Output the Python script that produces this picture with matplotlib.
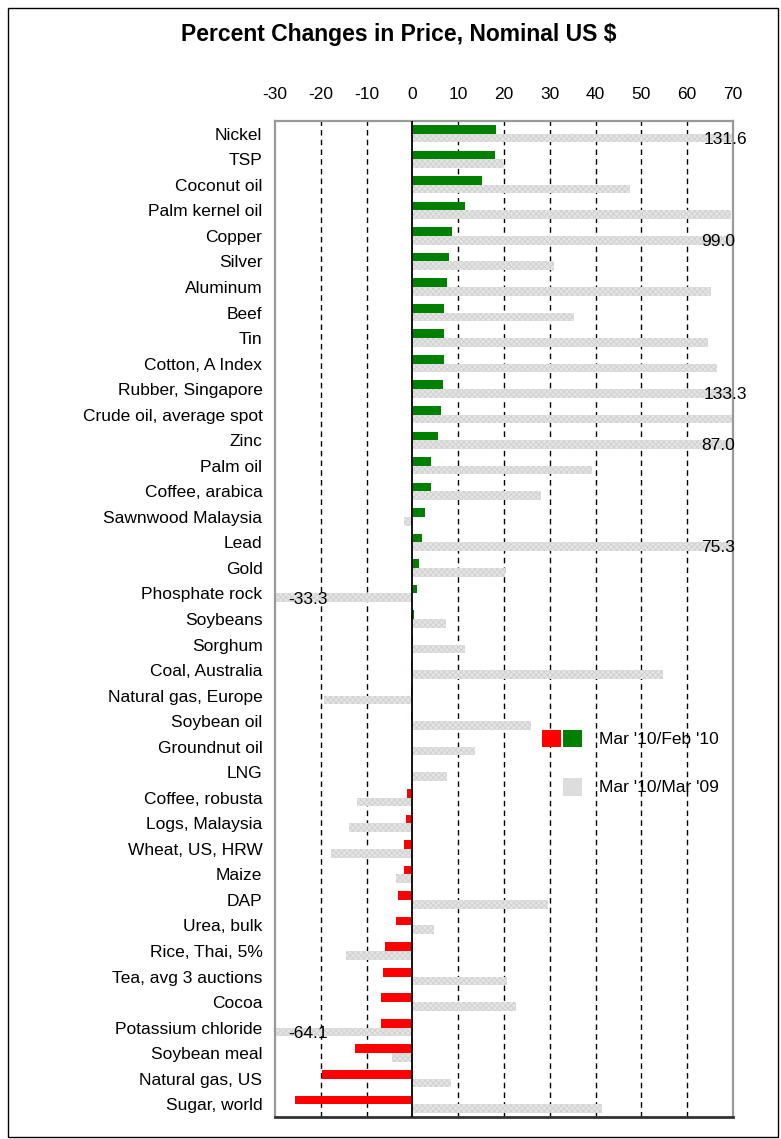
import numpy as np
import matplotlib
matplotlib.use("Agg")
import matplotlib.pyplot as plt
from matplotlib.patches import Patch, Rectangle
from matplotlib.legend_handler import HandlerTuple

plt.rcParams['font.family'] = ['Liberation Sans', 'DejaVu Sans']
plt.rcParams['hatch.linewidth'] = 0.6

commodities = ["Nickel", "TSP", "Coconut oil", "Palm kernel oil", "Copper", "Silver",
               "Aluminum", "Beef", "Tin", "Cotton, A Index", "Rubber, Singapore",
               "Crude oil, average spot", "Zinc", "Palm oil", "Coffee, arabica",
               "Sawnwood Malaysia", "Lead", "Gold", "Phosphate rock", "Soybeans",
               "Sorghum", "Coal, Australia", "Natural gas, Europe", "Soybean oil",
               "Groundnut oil", "LNG", "Coffee, robusta", "Logs, Malaysia",
               "Wheat, US, HRW", "Maize", "DAP", "Urea, bulk", "Rice, Thai, 5%",
               "Tea, avg 3 auctions", "Cocoa", "Potassium chloride", "Soybean meal",
               "Natural gas, US", "Sugar, world"]

# Mar '10 / Feb '10
monthly = [18.3, 18.0, 15.3, 11.4, 8.7, 8.1, 7.5, 7.0, 7.0, 7.0, 6.7, 6.2, 5.5, 4.1,
           4.1, 2.7, 2.1, 1.5, 1.1, 0.4, 0.1, -0.2, -0.2, -0.2, 0.0, 0.0, -1.25,
           -1.5, -1.9, -1.9, -3.2, -3.5, -5.9, -6.5, -6.8, -6.8, -12.5, -19.7, -25.7]

# Mar '10 / Mar '09
yearly = [131.6, 19.9, 47.5, 69.6, 99.0, 31.0, 65.3, 35.2, 64.6, 66.6, 133.3, 70.0,
          87.0, 39.2, 28.0, -1.8, 75.3, 20.2, -33.3, 7.4, 11.4, 54.8, -19.3, 26.0,
          13.7, 7.5, -12.0, -13.8, -17.8, -3.5, 29.7, 4.8, -14.5, 20.7, 22.7, -64.1,
          -4.5, 8.4, 41.5]

xmin, xmax = -30, 70
ticks = np.arange(-30, 80, 10)

y = np.arange(len(commodities))
h = 0.34
green_red = ['green' if v >= 0 else 'red' for v in monthly]

fig = plt.figure(figsize=(7.81, 11.39), dpi=100)
ax = fig.add_axes([0.3521, 0.0193, 0.5864, 0.8745])

ax.barh(y - h / 2, monthly, height=h, color=green_red, edgecolor='none', zorder=3)
ax.barh(y + h / 2, yearly, height=h, color='#e4e4e4', edgecolor='#d0d0d0',
        linewidth=0, hatch='xxxxxx', zorder=2)

# labels for values outside the axis range
for i, v in enumerate(yearly):
    if v > xmax:
        xpos = 73.1 if v > 100 else 70.5
        ax.text(xpos, i + h / 2 + 0.05, f"{v:.1f}", ha='right', va='center',
                fontsize=12.5, zorder=5, clip_on=False)
    elif v < xmin:
        ax.text(-27.2, i + h / 2 + 0.05, f"{v:.1f}", ha='left', va='center',
                fontsize=12.5, zorder=5)

ax.set_xlim(xmin, xmax)
ax.set_ylim(len(commodities) - 0.5, -0.5)
ax.set_xticks(ticks)
ax.set_xticklabels([str(t) for t in ticks])
ax.xaxis.tick_top()
ax.tick_params(axis='x', length=0, pad=14, labelsize=12.5)
ax.set_yticks(y)
ax.set_yticklabels(commodities)
ax.tick_params(axis='y', length=0, pad=9, labelsize=12.5)

for t in ticks[1:-1]:
    if t == 0:
        ax.axvline(0, color='black', lw=1.3, zorder=4)
    else:
        ax.axvline(t, color='black', lw=1, ls=(0, (4, 3)), zorder=1)

for side in ['left', 'right', 'top']:
    ax.spines[side].set_color('#9a9a9a')
    ax.spines[side].set_linewidth(1.6)
ax.spines['bottom'].set_color('#333333')
ax.spines['bottom'].set_linewidth(2)

blank = Patch(facecolor='none', edgecolor='none')
handles = [(Patch(facecolor='red'), Patch(facecolor='green')),
           (blank, Patch(facecolor='#dddddd'))]
ax.legend(handles, ["Mar '10/Feb '10", "Mar '10/Mar '09"],
          handler_map={tuple: HandlerTuple(ndivide=None, pad=0.15)},
          loc='upper left', bbox_to_anchor=(0.583, 0.389), frameon=False,
          fontsize=12.5, handlelength=2.3, handleheight=1.2, handletextpad=1.0,
          labelspacing=1.75, borderaxespad=0, borderpad=0)

fig.text(0.51, 0.970, "Percent Changes in Price, Nominal US $", ha='center',
         va='center', fontsize=16.5, fontweight='bold')

fig.patches.append(Rectangle((8 / 781, 2 / 1139), 770 / 781, 1129 / 1139,
                             transform=fig.transFigure, fill=False,
                             edgecolor='black', lw=1))

fig.savefig("out.png", dpi=100)
